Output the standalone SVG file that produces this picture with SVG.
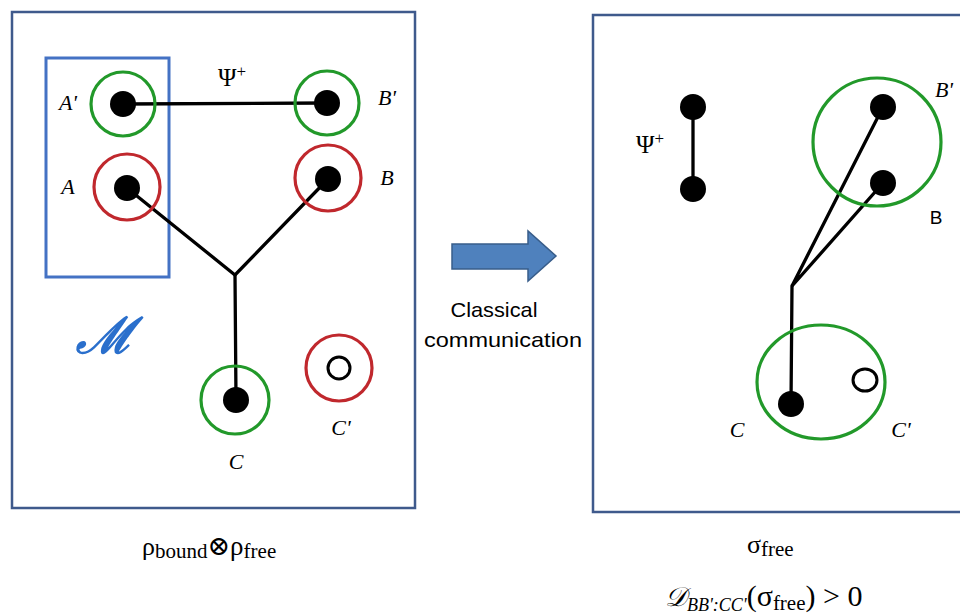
<svg xmlns="http://www.w3.org/2000/svg" width="960" height="615" viewBox="0 0 960 615">
<style>
.frame{fill:none;stroke:#3f5a8c;stroke-width:2.5}
.g{fill:none;stroke:#22992a;stroke-width:3.2}
.r{fill:none;stroke:#c0282d;stroke-width:3.2}
.dot{fill:#000}
.hol{fill:none;stroke:#000;stroke-width:3}
.ln{stroke:#000;stroke-width:3.3;fill:none;stroke-linecap:round}
.lb{font-family:"Liberation Serif","DejaVu Serif",serif;font-style:italic;font-size:22px;fill:#000;text-anchor:middle}
.mth{font-family:"Liberation Serif","DejaVu Serif",serif;fill:#000}
.sans{font-family:"Liberation Sans","Open Sans",sans-serif;fill:#000}
</style>
<rect width="960" height="615" fill="#fff"/>
<!-- frames -->
<rect class="frame" x="12" y="12" width="403" height="496"/>
<rect class="frame" x="593" y="15" width="380" height="497"/>
<rect id="M-box" x="46" y="58" width="123" height="219" fill="none" stroke="#4472c4" stroke-width="3"/>
<text x="105" y="353" font-family="'DejaVu Serif','Liberation Serif',serif" font-style="italic" font-weight="bold" font-size="50" fill="#2a6fcc" text-anchor="middle">ℳ</text>

<g id="connectors">
<line class="ln" x1="123" y1="104" x2="327" y2="103"/>
<polyline class="ln" points="127,188 235,275 328,179"/>
<line class="ln" x1="235" y1="275" x2="236" y2="400"/>
<line class="ln" x1="693" y1="107" x2="693" y2="189"/>
<polyline class="ln" points="883,107 792,286 883,183"/>
<line class="ln" x1="792" y1="286" x2="791" y2="404"/>
</g>

<g id="node-A1"><circle class="g" cx="123" cy="104" r="32"/><circle class="dot" cx="123" cy="104" r="13"/><text class="lb" x="68" y="110">A'</text></g>
<g id="node-B1"><circle class="g" cx="327" cy="103" r="32"/><circle class="dot" cx="327" cy="103" r="13"/><text class="lb" x="387" y="105">B'</text></g>
<g id="node-A"><circle class="r" cx="127" cy="187" r="33"/><circle class="dot" cx="127" cy="188" r="13"/><text class="lb" x="68" y="194">A</text></g>
<g id="node-B"><circle class="r" cx="328" cy="178" r="33"/><circle class="dot" cx="328" cy="179" r="13"/><text class="lb" x="387" y="185">B</text></g>
<g id="node-C"><circle class="g" cx="235" cy="400" r="34"/><circle class="dot" cx="236" cy="400" r="13"/><text class="lb" x="236" y="469">C</text></g>
<g id="node-C1"><circle class="r" cx="339" cy="368" r="33"/><circle class="hol" cx="339" cy="368" r="11"/><text class="lb" x="341" y="435">C'</text></g>
<text class="mth" x="232" y="86" font-size="25" text-anchor="middle">Ψ<tspan font-size="17" dy="-9">+</tspan></text>

<!-- arrow -->
<g id="arrow">
<path d="M452,244 H528 V231 L556,256 L528,281 V269 H452 Z" fill="#4f81bd" stroke="#385d8a" stroke-width="1.5"/>
<text class="sans" x="494" y="317" font-size="21" text-anchor="middle" textLength="87" lengthAdjust="spacingAndGlyphs">Classical</text>
<text class="sans" x="503" y="347" font-size="21" text-anchor="middle" textLength="158" lengthAdjust="spacingAndGlyphs">communication</text>
</g>

<!-- right -->
<g id="node-psi"><circle class="dot" cx="693" cy="107" r="13"/><circle class="dot" cx="693" cy="189" r="13"/><text class="mth" x="650" y="153" font-size="25" text-anchor="middle">Ψ<tspan font-size="17" dy="-9">+</tspan></text></g>
<g id="node-BB"><circle class="g" cx="877" cy="142" r="64"/><circle class="dot" cx="883" cy="107" r="13"/><circle class="dot" cx="883" cy="183" r="13"/><text class="lb" x="944" y="97">B'</text><text class="sans" x="936" y="224" font-size="19" text-anchor="middle">B</text></g>
<g id="node-CC"><ellipse class="g" cx="821" cy="382" rx="64" ry="57"/><circle class="dot" cx="791" cy="404" r="13"/><ellipse class="hol" cx="865" cy="380" rx="12" ry="11"/><text class="lb" x="737" y="437">C</text><text class="lb" x="901" y="437">C'</text></g>

<!-- formulas -->
<text class="mth" x="142" y="555" font-size="26">ρ<tspan font-size="21" dy="3">bound</tspan><tspan font-size="27" dy="-3">⊗ρ</tspan><tspan font-size="21" dy="3">free</tspan></text>
<text class="mth" x="747" y="553" font-size="26">σ<tspan font-size="21" dy="3">free</tspan></text>
<text class="mth" x="665" y="606" font-size="27"><tspan font-style="italic">𝒟</tspan><tspan font-size="18" font-style="italic" dy="5">BB':CC'</tspan><tspan font-size="30" dy="-5">(σ</tspan><tspan font-size="21" dy="4">free</tspan><tspan font-size="30" dy="-4">) &gt; 0</tspan></text>
</svg>
